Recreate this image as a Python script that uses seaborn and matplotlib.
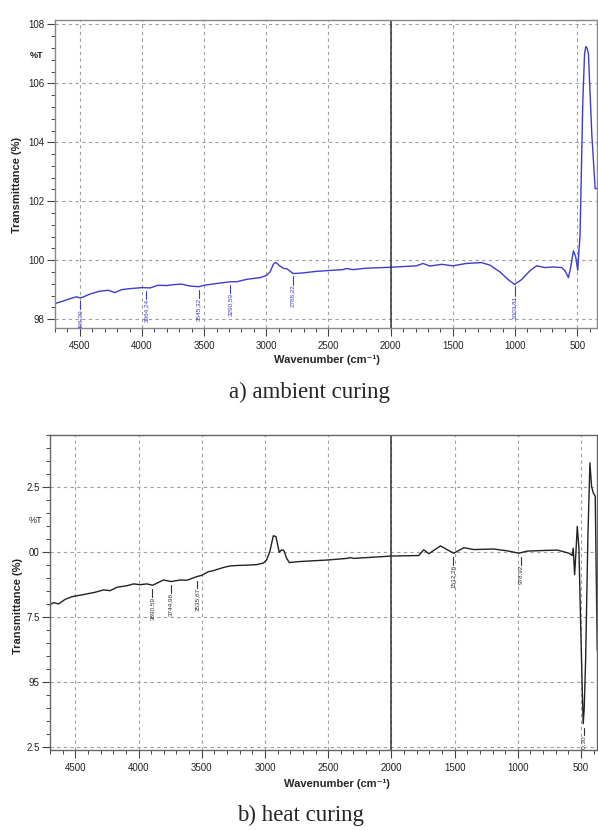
#!/usr/bin/env python3
"""
FTIR spectra of the geopolymer samples: ambient curing vs heat curing.
"""

import numpy as np
import pandas as pd
import matplotlib
matplotlib.use("Agg")
import matplotlib.pyplot as plt
from matplotlib.ticker import MultipleLocator
import seaborn as sns

# --- a) ambient curing (read off the scanned spectrum) ---
ambient_wn = [4700, 4630, 4560, 4527, 4500, 4480, 4420, 4340, 4270, 4218, 4165, 4110,
              4000, 3935, 3870, 3800, 3747, 3680, 3625, 3545, 3500, 3400, 3290, 3237,
              3160, 3050, 3000, 2970, 2945, 2930, 2915, 2900, 2860, 2835, 2785, 2725, 2600, 2500,
              2384, 2357, 2304, 2196, 2000, 1793, 1740, 1685, 1590, 1500, 1390, 1269,
              1200, 1120, 1054, 1003, 947, 880, 826, 758, 690, 624, 597, 570, 551,
              530, 511, 495, 476, 454, 440, 430, 420, 409, 382, 355, 336]
ambient_t = [98.53, 98.62, 98.72, 98.76, 98.72, 98.74, 98.85, 98.95, 98.98, 98.90, 99.00, 99.03,
             99.07, 99.06, 99.15, 99.14, 99.17, 99.19, 99.13, 99.10, 99.15, 99.21, 99.27, 99.27,
             99.35, 99.41, 99.48, 99.60, 99.85, 99.92, 99.90, 99.83, 99.72, 99.71, 99.55, 99.56, 99.62, 99.65,
             99.68, 99.72, 99.68, 99.73, 99.76, 99.81, 99.89, 99.80, 99.86, 99.81, 99.89, 99.92,
             99.83, 99.60, 99.34, 99.18, 99.34, 99.64, 99.81, 99.75, 99.77, 99.75, 99.64, 99.41, 99.77,
             100.32, 100.11, 99.66, 100.90, 105.42, 107.00, 107.25, 107.20, 107.00, 104.29, 102.43, 102.43]
ambient_peaks = [4496, 3964, 3545, 3290, 2788, 1003]
ambient_peak_t = [98.72, 99.06, 99.10, 99.27, 99.55, 99.18]
ambient_peak_labels = ["496,30", "3964,24", "3545,32", "3290,59", "2788,22", "1003,81"]

# --- b) heat curing ---
heat_wn = [4697, 4671, 4632, 4579, 4526, 4434, 4342, 4276, 4224, 4171, 4092, 4039,
           3987, 3934, 3887, 3803, 3742, 3671, 3618, 3539, 3500, 3447, 3408, 3329,
           3276, 3211, 3145, 3066, 3013, 2987, 2961, 2934, 2913, 2887, 2868, 2850,
           2829, 2808, 2724, 2500, 2351, 2325, 2298, 2000, 1784, 1744, 1704, 1612,
           1546, 1507, 1427, 1348, 1190, 1084, 992, 926, 820, 688, 596, 570, 562,
           551, 541, 530, 517, 504, 490, 483, 475, 464, 446, 430, 417, 404, 388, 372]
heat_t = [97.99, 98.06, 98.01, 98.19, 98.29, 98.37, 98.46, 98.55, 98.52, 98.65, 98.71, 98.78,
          98.75, 98.78, 98.73, 98.93, 98.87, 98.93, 98.92, 99.06, 99.11, 99.25, 99.29, 99.41,
          99.47, 99.49, 99.50, 99.52, 99.58, 99.70, 100.03, 100.63, 100.60, 99.99, 100.09, 100.06,
          99.77, 99.60, 99.64, 99.70, 99.76, 99.79, 99.76, 99.85, 99.87, 100.09, 99.94, 100.24,
          100.06, 99.96, 100.17, 100.10, 100.12, 100.05, 99.96, 100.04, 100.06, 100.08, 99.96, 99.87, 100.15,
          99.13, 99.96, 100.99, 100.15, 97.39, 94.60, 93.41, 94.00, 95.85, 100.60, 103.43, 102.53, 102.28, 102.15, 96.23]
heat_peaks = [3890, 3744, 3535, 1512, 978, 480]
heat_peak_t = [98.73, 98.88, 99.06, 99.96, 99.96, 93.41]
heat_peak_labels = ["3890,59", "3744,96", "3535,67", "1512,26", "978,92", "480,30"]

heat_yticks = [102.5, 100.0, 97.5, 95.0, 92.5]
heat_yticklabels = ["2.5", "00", "7.5", "95", "2.5"]

sns.set_theme(style="ticks")
plt.rcParams["font.family"] = ["Liberation Sans", "DejaVu Sans"]

W, H = 598, 830
fig = plt.figure(figsize=(W / 100, H / 100), dpi=100)


def px_axes(left, top, right, bottom):
    return fig.add_axes([left / W, 1 - bottom / H, (right - left) / W, (bottom - top) / H])


def style_axes(ax, xlim, ylim, ymajor, yminor, spine_col):
    ax.set_xlim(*xlim)
    ax.set_ylim(*ylim)
    ax.xaxis.set_major_locator(MultipleLocator(500))
    ax.xaxis.set_minor_locator(MultipleLocator(100))
    ax.yaxis.set_major_locator(MultipleLocator(ymajor))
    ax.yaxis.set_minor_locator(MultipleLocator(yminor))
    ax.grid(True, which="major", color="#a0a0a0", linestyle=(0, (3, 3)), linewidth=0.8)
    ax.tick_params(axis="both", which="major", direction="out", length=6, width=0.8,
                   labelsize=7, color="#444444", labelcolor="#222222")
    ax.tick_params(axis="both", which="minor", direction="out", length=3, width=0.7, color="#444444")
    ax.tick_params(axis="x", pad=3)
    ax.tick_params(axis="y", pad=1.5)
    for s in ax.spines.values():
        s.set_color(spine_col)
        s.set_linewidth(1.0)
    ax.axvline(2000, color="#333333", linewidth=1.1, zorder=2)
    ax.set_xlabel("")
    ax.set_ylabel("")


def mark_peaks(ax, wn, t, labels, color, drop, tick_len):
    for x, y, lab in zip(wn, t, labels):
        y0 = y - drop
        y1 = y0 - tick_len
        ax.plot([x, x], [y0, y1], color=color, linewidth=0.8, zorder=3)
        ax.text(x, y1, lab, rotation=90, ha="center", va="top", fontsize=4.6,
                color=color, clip_on=True, zorder=3)


# ---- a) ambient curing ----
ax1 = px_axes(55, 20, 597, 328)
amb = pd.DataFrame({"wn": ambient_wn, "t": ambient_t})
sns.lineplot(data=amb, x="wn", y="t", ax=ax1, color="#3c3cd2", linewidth=1.0,
             sort=False, estimator=None)
style_axes(ax1, (4700, 340), (97.7, 108.15), 2, 0.4, "#888888")
mark_peaks(ax1, ambient_peaks, ambient_peak_t, ambient_peak_labels, "#3c3cd2", 0.1, 0.28)

fig.text(37 / W, 1 - 55 / H, "%T", fontsize=6.5, fontweight="bold", ha="center", va="center",
         color="#222222")
fig.text(17 / W, 1 - 185 / H, "Transmittance (%)", rotation=90, fontsize=8, fontweight="bold",
         ha="center", va="center")
fig.text(327 / W, 1 - 360 / H, "Wavenumber (cm⁻¹)", fontsize=8, fontweight="bold",
         ha="center", va="center")
fig.text(309 / W, 1 - 392 / H, "a) ambient curing", fontsize=16.5, family="Liberation Serif",
         ha="center", va="center")

# ---- b) heat curing ----
ax2 = px_axes(50, 435, 597, 750)
heat = pd.DataFrame({"wn": heat_wn, "t": heat_t})
sns.lineplot(data=heat, x="wn", y="t", ax=ax2, color="#222222", linewidth=1.0,
             sort=False, estimator=None)
style_axes(ax2, (4700, 374), (92.4, 104.5), 2.5, 0.5, "#666666")
ax2.set_yticks(heat_yticks)
ax2.set_yticklabels(heat_yticklabels)
mark_peaks(ax2, heat_peaks, heat_peak_t, heat_peak_labels, "#333333", 0.15, 0.3)

fig.text(35 / W, 1 - 520 / H, "%T", fontsize=6.5, ha="center", va="center", color="#222222")
fig.text(18 / W, 1 - 606 / H, "Transmittance (%)", rotation=90, fontsize=8, fontweight="bold",
         ha="center", va="center")
fig.text(337 / W, 1 - 784 / H, "Wavenumber (cm⁻¹)", fontsize=8, fontweight="bold",
         ha="center", va="center")
fig.text(300 / W, 1 - 815 / H, "b) heat curing", fontsize=16.5, family="Liberation Serif",
         ha="center", va="center")

fig.savefig("out.png", dpi=100)
plt.close(fig)
